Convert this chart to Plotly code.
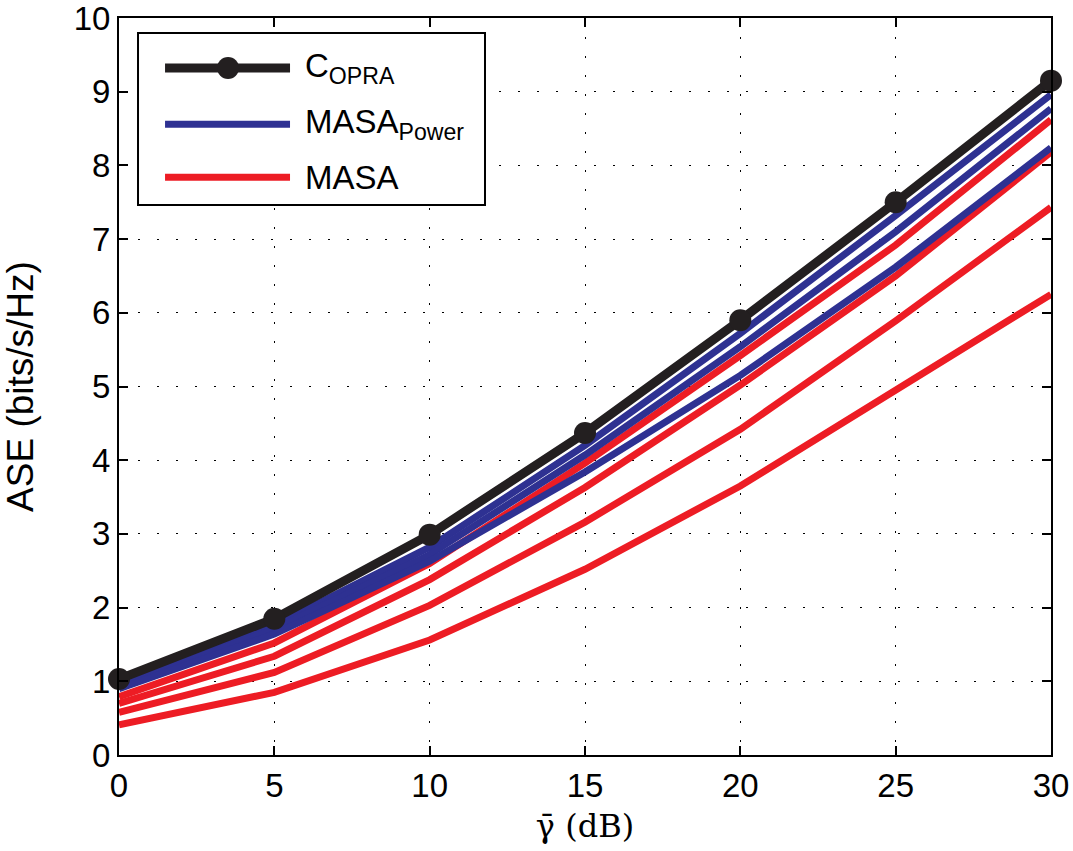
import plotly.graph_objects as go

snr_db = [0, 5, 10, 15, 20, 25, 30]

c_opra = [1.03, 1.85, 2.99, 4.37, 5.90, 7.50, 9.15]

masa_power = [
    [0.97, 1.76, 2.82, 4.20, 5.72, 7.32, 8.96],
    [0.94, 1.71, 2.72, 4.07, 5.54, 7.10, 8.77],
    [0.90, 1.64, 2.63, 3.84, 5.15, 6.62, 8.24],
]

masa = [
    [0.79, 1.52, 2.60, 3.96, 5.42, 6.92, 8.62],
    [0.70, 1.34, 2.38, 3.63, 5.02, 6.50, 8.18],
    [0.58, 1.12, 2.03, 3.16, 4.42, 5.89, 7.43],
    [0.41, 0.85, 1.56, 2.52, 3.65, 4.94, 6.25],
]

x_ticks = [0, 5, 10, 15, 20, 25, 30]
y_ticks = [0, 1, 2, 3, 4, 5, 6, 7, 8, 9, 10]

BLACK = "#231f20"
BLUE = "#2e3192"
RED = "#ed1c24"

fig = go.Figure()

for ys in masa:
    fig.add_trace(go.Scatter(x=snr_db, y=ys, mode="lines",
                             line=dict(color=RED, width=7), showlegend=False))
for ys in masa_power:
    fig.add_trace(go.Scatter(x=snr_db, y=ys, mode="lines",
                             line=dict(color=BLUE, width=7), showlegend=False))
fig.add_trace(go.Scatter(x=snr_db, y=c_opra, mode="lines+markers",
                         line=dict(color=BLACK, width=9),
                         marker=dict(color=BLACK, size=22, symbol="circle"),
                         showlegend=False, cliponaxis=False))

# custom legend (paper coords)
L, T, R, B = 0.0204, 0.9796, 0.3927, 0.7463
fig.add_shape(type="rect", xref="paper", yref="paper", x0=L, y0=B, x1=R, y1=T,
              line=dict(color="black", width=2), fillcolor="white", layer="above")
entries = [
    ("C<sub>OPRA</sub>", BLACK, 9, 0.9322),
    ("MASA<sub>Power</sub>", BLUE, 7, 0.856),
    ("MASA", RED, 7, 0.784),
]
for text, col, w, yy in entries:
    fig.add_shape(type="line", xref="paper", yref="paper", x0=0.0494, x1=0.1835,
                  y0=yy, y1=yy, line=dict(color=col, width=w), layer="above")
    fig.add_annotation(xref="paper", yref="paper", x=0.197, y=yy, xanchor="left",
                       yanchor="middle", text=text, showarrow=False,
                       font=dict(family="Liberation Sans, Arial", size=33, color="black"))
fig.add_shape(type="circle", xref="paper", yref="paper", x0=0.117 - 0.0118, x1=0.117 + 0.0118,
              y0=0.9322 - 0.0149, y1=0.9322 + 0.0149, fillcolor=BLACK,
              line=dict(color=BLACK, width=0), layer="above")

axis_common = dict(
    showline=True, linecolor="black", linewidth=2, mirror="allticks",
    ticks="inside", ticklen=9, tickwidth=1.5, tickcolor="black",
    showgrid=True, gridcolor="black", gridwidth=1.3, griddash="2px,17px",
    zeroline=False, automargin=False, ticklabeloverflow="allow",
    tickfont=dict(family="Liberation Sans, Arial", size=33, color="black"),
)

fig.update_xaxes(range=[0, 30], tickvals=x_ticks, ticktext=[str(v) for v in x_ticks],
                 title=dict(text="γ̄ (dB)", standoff=12,
                            font=dict(family="DejaVu Serif, Liberation Serif", size=32, color="black")),
                 **axis_common)
fig.update_yaxes(range=[0, 10], tickvals=y_ticks, ticktext=[str(v) for v in y_ticks],
                 title=dict(text="ASE (bits/s/Hz)", standoff=34,
                            font=dict(family="Liberation Sans, Arial", size=37, color="black")),
                 **axis_common)

fig.update_layout(
    width=1073, height=851,
    margin=dict(l=119, r=22, t=18, b=96),
    plot_bgcolor="white", paper_bgcolor="white",
    showlegend=False,
)

fig.write_html("out.html")
